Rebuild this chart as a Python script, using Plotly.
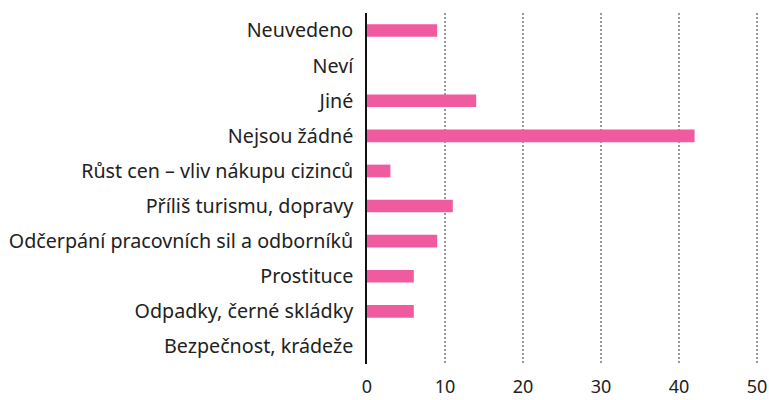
import plotly.graph_objects as go

categories = [
    "Neuvedeno",
    "Neví",
    "Jiné",
    "Nejsou žádné",
    "Růst cen – vliv nákupu cizinců",
    "Příliš turismu, dopravy",
    "Odčerpání pracovních sil a odborníků",
    "Prostituce",
    "Odpadky, černé skládky",
    "Bezpečnost, krádeže",
]
values = [9, 0, 14, 42, 3, 11, 9, 6, 6, 0]
x_ticks = [0, 10, 20, 30, 40, 50]

fig = go.Figure(
    go.Bar(
        x=values,
        y=categories,
        orientation="h",
        marker=dict(color="#f05a9f", line=dict(width=0)),
        width=0.36,
    )
)

fig.update_layout(
    width=769,
    height=400,
    margin=dict(l=367, r=10, t=13, b=36, autoexpand=False),
    paper_bgcolor="white",
    plot_bgcolor="white",
    font=dict(family="Noto Sans, Open Sans, sans-serif", size=19.7, color="#222222"),
    showlegend=False,
)

fig.update_xaxes(
    range=[0, 50.26],
    tickvals=x_ticks,
    showgrid=True,
    gridcolor="#9a9a9a",
    gridwidth=2,
    griddash="2px,2px",
    zeroline=False,
    showline=False,
    ticks="",
    ticklabelstandoff=10,
    tickfont=dict(size=18),
    automargin=False,
)

fig.update_yaxes(
    categoryorder="array",
    categoryarray=categories[::-1],
    showgrid=False,
    zeroline=False,
    showline=True,
    linecolor="#111111",
    linewidth=1.5,
    ticks="",
    ticklabelstandoff=8,
    automargin=False,
)

fig.write_html("out.html")
